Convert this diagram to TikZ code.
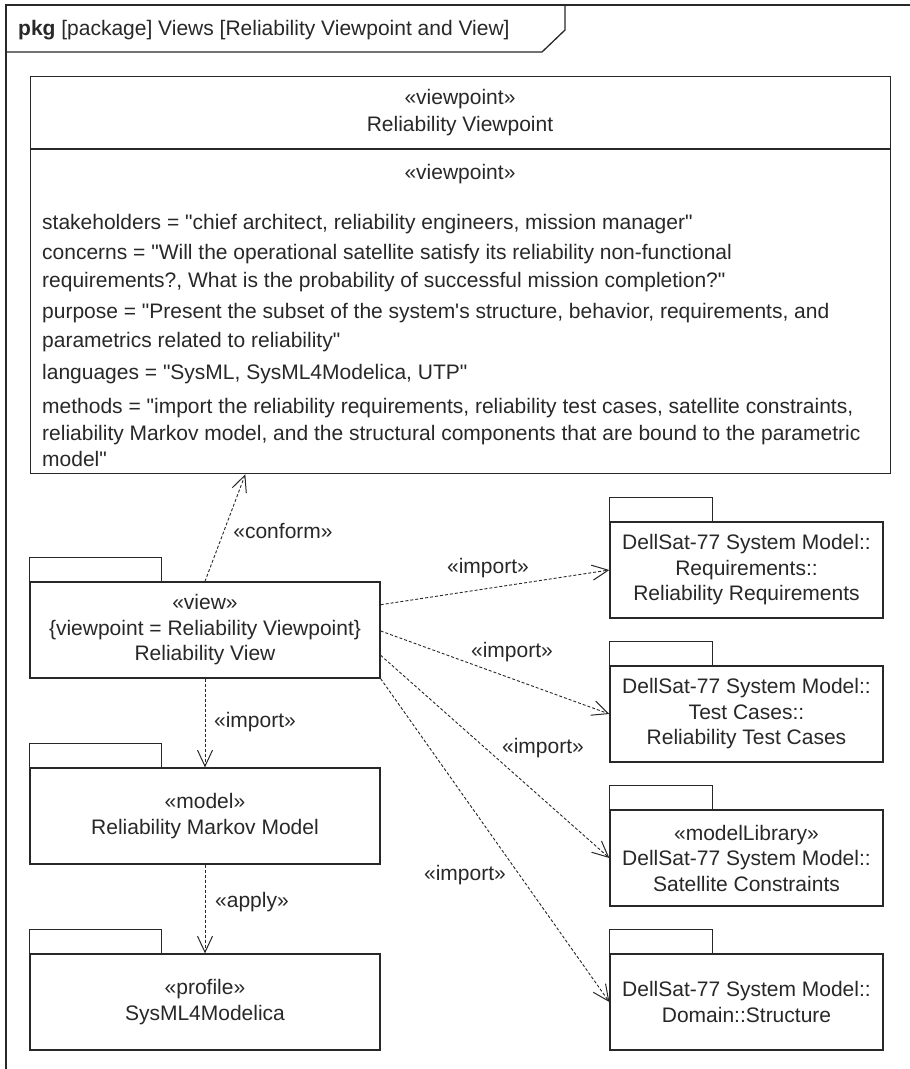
\documentclass[tikz,border=0pt]{standalone}
\usepackage{fontspec}
% plain family without TeX ligatures, so that " and ' stay straight
\newfontfamily\umlfont{Liberation Sans}
\usetikzlibrary{arrows.meta,calc}
\definecolor{ink}{RGB}{40,40,40}
\begin{document}
\begin{tikzpicture}[x=1pt,y=-1pt,
  txt/.style={font=\umlfont\fontsize{21}{25.5}\selectfont, inner sep=0pt, text=ink},
  pkgbody/.style={draw=ink, line width=1.3pt, fill=white, align=center,
    inner sep=0pt, font=\umlfont\fontsize{21}{25.5}\selectfont, text=ink,
    minimum height=96pt},
  leftpkg/.style={pkgbody, minimum width=350pt},
  rightpkg/.style={pkgbody, minimum width=273pt},
  tabline/.style={draw=ink, line width=1.3pt},
  dep/.style={draw=ink, line width=0.9pt, dash pattern=on 3pt off 2pt,
    -{Straight Barb[length=16pt,width=15pt,line width=1pt]}},
  lbl/.style={txt, anchor=base},
  vpline/.style={txt, anchor=base west}
]
% canvas
\path[fill=white] (0,0) rectangle (910,1069);
\useasboundingbox (0,0) rectangle (910,1069);

% diagram frame and its name tab
\draw[ink, line width=1.8pt] (6,1069) -- (6,5) -- (910,5);
\draw[ink, line width=1.3pt] (6,52) -- (542,52) -- (565,30) -- (565,5);
\node[txt, anchor=base west] (title) at (18,35)
  {\textbf{pkg} [package] Views [Reliability Viewpoint and View]};

% viewpoint block
\node[draw=ink, line width=1.3pt, anchor=north west, inner sep=0pt,
      minimum width=860pt, minimum height=397pt] (vp) at (30,76) {};
\draw[ink, line width=1.3pt] ($(vp.north west)+(0,73)$) -- ($(vp.north east)+(0,73)$);
\node[lbl] (vpst) at (460,104) {«viewpoint»};
\node[lbl] (vpname) at (460,131) {Reliability Viewpoint};
\node[lbl] (vpcst) at (460,179) {«viewpoint»};
\node[vpline] (vpl1) at (42,229) {stakeholders = "chief architect, reliability engineers, mission manager"};
\node[vpline] (vpl2) at (42,259) {concerns = "Will the operational satellite satisfy its reliability non-functional};
\node[vpline] (vpl3) at (42,287) {requirements?, What is the probability of successful mission completion?"};
\node[vpline] (vpl4) at (42,318) {purpose = "Present the subset of the system's structure, behavior, requirements, and};
\node[vpline] (vpl5) at (42,347) {parametrics related to reliability"};
\node[vpline] (vpl6) at (42,379) {languages = "SysML, SysML4Modelica, UTP"};
\node[vpline] (vpl7) at (42,413) {methods = "import the reliability requirements, reliability test cases, satellite constraints,};
\node[vpline] (vpl8) at (42,440) {reliability Markov model, and the structural components that are bound to the parametric};
\node[vpline] (vpl9) at (42,466) {model"};

% packages on the left
\node[leftpkg] (view) at (205,630)
  {«view»\\\{viewpoint = Reliability Viewpoint\}\\Reliability View};
\node[leftpkg] (markov) at (205,816) {«model»\\Reliability Markov Model};
\node[leftpkg] (profile) at (205,1002) {«profile»\\SysML4Modelica};
\foreach \p in {view,markov,profile}
  \draw[tabline] (\p.north west) -- ++(0,-24) -- ++(132,0) -- ++(0,24);

% packages on the right
\node[rightpkg] (req) at (746.5,570)
  {DellSat-77 System Model::\\Requirements::\\Reliability Requirements};
\node[rightpkg] (tests) at (746.5,714)
  {DellSat-77 System Model::\\Test Cases::\\Reliability Test Cases};
\node[rightpkg] (cons) at (746.5,858)
  {«modelLibrary»\\DellSat-77 System Model::\\Satellite Constraints};
\node[rightpkg] (dom) at (746.5,1002)
  {DellSat-77 System Model::\\Domain::Structure};
\foreach \p in {req,tests,cons,dom}
  \draw[tabline] (\p.north west) -- ++(0,-24) -- ++(103,0) -- ++(0,24);

% dependencies
\draw[dep] (view.north) -- ($(vp.south west)!0.25!(vp.south east)$);
\draw[dep] ($(view.north east)!0.24!(view.south east)$) -- (req.west);
\draw[dep] ($(view.north east)!0.51!(view.south east)$) -- (tests.west);
\draw[dep] ($(view.north east)!0.76!(view.south east)$) -- (cons.west);
\draw[dep] (view.south east) -- (dom.west);
\draw[dep] (view.south) -- (markov.north);
\draw[dep] (markov.south) -- (profile.north);

% dependency labels
\node[lbl] (lconform) at (283,538) {«conform»};
\node[lbl] (limp1) at (488,573) {«import»};
\node[lbl] (limp2) at (512,657) {«import»};
\node[lbl] (limp3) at (543,753) {«import»};
\node[lbl] (limp4) at (465,880) {«import»};
\node[lbl] (limp5) at (255,727) {«import»};
\node[lbl] (lapply) at (252,907) {«apply»};
\end{tikzpicture}
\end{document}
